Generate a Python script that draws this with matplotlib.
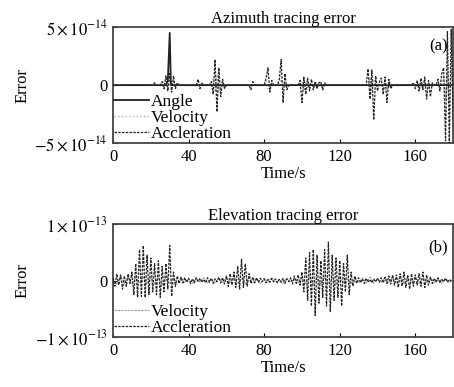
import numpy as np
import matplotlib.pyplot as plt

plt.rcParams['font.family'] = ['Liberation Serif', 'DejaVu Serif']
plt.rcParams['mathtext.fontset'] = 'stix'

t = np.arange(0, 181)

# azimuth (units of 1e-14)
az_angle_t = [0, 28, 29, 30, 30.6, 31, 180]
az_angle_v = [0, 0, 0.4, 4.5, 0.2, 0, 0]

az_vel_t = [0, 26, 27, 29, 31, 33, 44, 45, 46, 52, 53, 54, 55, 56, 57, 80, 81, 82, 83,
            88, 89, 90, 91, 99, 100, 101, 102, 103, 104, 135, 136, 137, 138, 139,
            143, 144, 145, 146, 162, 163, 164, 165, 166, 174, 175, 176, 177, 178, 179, 180]
az_vel_v = [0, 0, 0.3, -0.2, 0.4, 0, 0, 0.2, 0, 0, 0.5, -0.6, 0.8, -0.5, 0, 0, 0.4, -0.3, 0,
            0, 0.5, -0.4, 0, 0, 0.3, -0.4, 0.3, -0.2, 0, 0, 0.6, -0.7, 0.5, 0,
            0, 0.3, -0.4, 0, 0, 0.3, -0.3, 0.2, 0, 0, 0.8, -1.2, 1.0, -1.5, 1.2, 0]

az_acc = [0, 0, 0, 0, 0, 0, 0, 0, 0, 0,
          0, 0, 0, 0, 0, 0, 0, 0, 0, 0,
          0, 0, 0.2, 0, 0, 0, 0.3, -0.3, 0.8, -0.5,
          1.0, -0.6, 0.8, -0.3, 0.2, 0, 0, 0, 0, 0,
          0, 0, 0, 0, 0, 0.5, -0.3, 0.2, 0, 0,
          0, 0, 0.3, -0.8, 2.2, -2.3, 1.5, -1.0, 0.5, -0.3,
          0, 0, 0, 0, 0, 0, 0, 0, 0, 0,
          0, 0, 0, -0.4, 0.3, 0, 0, 0, 0, 0,
          0, 0.6, 1.5, -0.6, 0.4, 0, 0, 0, 0.5, 2.2,
          -1.5, 1.0, -0.4, 0, 0, 0, 0, 0, 0, 0.4,
          -1.5, 0.7, -0.8, 0.6, -0.5, 0.5, -0.4, 0.3, -0.3, 0.2,
          0.3, -0.4, 0.2, 0, 0, 0, 0, 0, 0, 0,
          0, 0, 0, 0, 0, 0, 0, 0, 0, 0,
          0, 0, 0, 0, 0, 1.4, -1.2, 1.3, -3.0, 0.8,
          -0.5, 0.3, 0.6, -0.8, 0.7, -1.5, 0.5, -0.3, 0, 0,
          0, 0, 0, 0, 0, 0, 0, 0, 0, 0.2,
          -0.3, 0.4, -0.5, 0.6, -0.4, 0.7, -1.2, 0.4, -1.0, 0.2,
          0, 0, 0.5, -0.5, 1.0, 1.5, -4.8, 4.6, -5.0, 4.8, -3.0]

# elevation (units of 1e-13)
el_vel = [0.05, -0.06, 0.08, -0.05, 0.06, -0.07, 0.05, -0.04, 0.06, -0.05,
          0.07, -0.06, 0.05, -0.08, 0.06, -0.05, 0.04, -0.06, 0.05, -0.04,
          0.03, -0.05, 0.04, -0.03, 0.05, -0.04, 0.03, -0.05, 0.04, -0.03,
          0.05, -0.04, 0.06, -0.05, 0.04, -0.06, 0.05, -0.04, 0.03, -0.05,
          0.04, -0.03, 0.05, -0.04, 0.03, -0.05, 0.04, -0.03, 0.05, -0.04,
          0.06, -0.05, 0.07, -0.06, 0.05, -0.07, 0.06, -0.05, 0.04, -0.06,
          0.05, -0.04, 0.03, -0.05, 0.04, -0.03, 0.05, -0.04, 0.06, -0.05,
          0.04, -0.03, 0.05, -0.04, 0.06, -0.05, 0.07, -0.06, 0.05, -0.04,
          0.06, -0.05, 0.04, -0.03, 0.05, -0.04, 0.03, -0.05, 0.04, -0.03, 0.02]

el_acc = [0.05, -0.1, 0.12, -0.08, 0.1, -0.15, 0.08, -0.1, 0.12, -0.05,
          0.15, -0.25, 0.3, -0.3, 0.55, -0.28, 0.62, -0.3, 0.45, -0.25,
          0.4, -0.2, 0.3, -0.25, 0.35, -0.3, 0.25, -0.2, 0.3, -0.15,
          0.62, -0.28, 0.15, -0.1, 0.08, -0.05, 0.06, -0.04, 0.05, -0.03,
          0.04, -0.05, 0.03, -0.04, 0.05, -0.02, 0.04, -0.03, 0.02, -0.04,
          0.05, -0.03, 0.04, -0.05, 0.03, -0.02, 0.06, -0.04, 0.05, -0.06,
          0.08, -0.1, 0.12, -0.08, 0.15, -0.12, 0.25, -0.15, 0.38, -0.12,
          0.3, -0.1, 0.12, -0.05, 0.06, -0.04, 0.05, -0.03, 0.04, -0.02,
          0.03, -0.04, 0.02, -0.03, 0.04, -0.02, 0.03, -0.04, 0.02, -0.03,
          0.04, -0.05, 0.03, -0.02, 0.05, -0.06, 0.08, -0.05, 0.1, -0.08,
          0.15, -0.2, 0.4, -0.35, 0.5, -0.45, 0.55, -0.62, 0.45, -0.4,
          0.35, -0.3, 0.55, -0.45, 0.68, -0.55, 0.45, -0.35, 0.4, -0.3,
          0.35, -0.45, 0.3, -0.2, 0.45, -0.25, 0.15, -0.1, 0.08, -0.05,
          0.05, -0.04, 0.03, -0.05, 0.04, -0.03, 0.02, -0.04, 0.03, -0.02,
          0.04, -0.03, 0.05, -0.04, 0.06, -0.05, 0.08, -0.06, 0.1, -0.08,
          0.1, -0.12, 0.12, -0.1, 0.15, -0.12, 0.1, -0.15, 0.12, -0.1,
          0.1, -0.08, 0.12, -0.1, 0.15, -0.12, 0.1, -0.08, 0.06, -0.05,
          0.04, -0.03, 0.05, -0.04, 0.03, -0.02, 0.04, -0.03, 0.02, -0.01, 0.0]

fs = 12
fig = plt.figure(figsize=(4.54, 3.87), dpi=100)
ax1 = fig.add_axes([0.249, 0.630, 0.749, 0.300])
ax2 = fig.add_axes([0.249, 0.129, 0.749, 0.292])

ax1.plot(np.array(az_vel_t), np.array(az_vel_v) * 1e-14, color='#aaaaaa', ls=':', lw=1.0, label='Velocity', zorder=2)
ax1.plot(t, np.array(az_acc) * 1e-14, color='#222222', ls='--', lw=0.9, dashes=(2, 1), label='Accleration', zorder=3)
ax1.plot(np.array(az_angle_t), np.array(az_angle_v) * 1e-14, color='#222222', ls='-', lw=1.3, label='Angle', zorder=4)
ax1.set_ylim(-5e-14, 5e-14)
ax1.set_yticks([-5e-14, 0, 5e-14])
ax1.set_yticklabels([r'$-5\times10^{-14}$', '0', r'$5\times10^{-14}$'])
ax1.set_title('Azimuth tracing error', fontsize=fs, pad=2)
ax1.text(0.985, 0.80, '(a)', transform=ax1.transAxes, ha='right', fontsize=fs)
h, l = ax1.get_legend_handles_labels()
ax1.legend([h[2], h[0], h[1]], [l[2], l[0], l[1]], loc='lower left', frameon=False,
           fontsize=12.5, handlelength=2.0, handletextpad=0.1, labelspacing=0.0,
           borderaxespad=0.05, borderpad=0.0)

ax2.plot(np.arange(0, 181, 2), np.array(el_vel) * 1e-13, color='#999999', ls='--', lw=0.8, dashes=(2, 1), label='Velocity', zorder=2)
ax2.plot(t, np.array(el_acc) * 1e-13, color='#222222', ls='--', lw=0.9, dashes=(2, 1), label='Accleration', zorder=3)
ax2.set_ylim(-1e-13, 1e-13)
ax2.set_yticks([-1e-13, 0, 1e-13])
ax2.set_yticklabels([r'$-1\times10^{-13}$', '0', r'$1\times10^{-13}$'])
ax2.set_title('Elevation tracing error', fontsize=fs, pad=2)
ax2.text(0.985, 0.76, '(b)', transform=ax2.transAxes, ha='right', fontsize=fs)
ax2.legend(loc='lower left', frameon=False, fontsize=12.5, handlelength=2.0,
           handletextpad=0.1, labelspacing=0.0, borderaxespad=0.05, borderpad=0.0)

for ax in (ax1, ax2):
    ax.set_xlim(0, 180)
    ax.set_xticks([0, 40, 80, 120, 160])
    ax.tick_params(direction='in', length=3, labelsize=fs, pad=4)
    ax.set_xlabel('Time/s', fontsize=fs, labelpad=1)
    ax.set_ylabel('Error', fontsize=fs, labelpad=3)
    for s in ax.spines.values():
        s.set_linewidth(1.3)
        s.set_color('#444444')

fig.savefig('out.png', dpi=100)
